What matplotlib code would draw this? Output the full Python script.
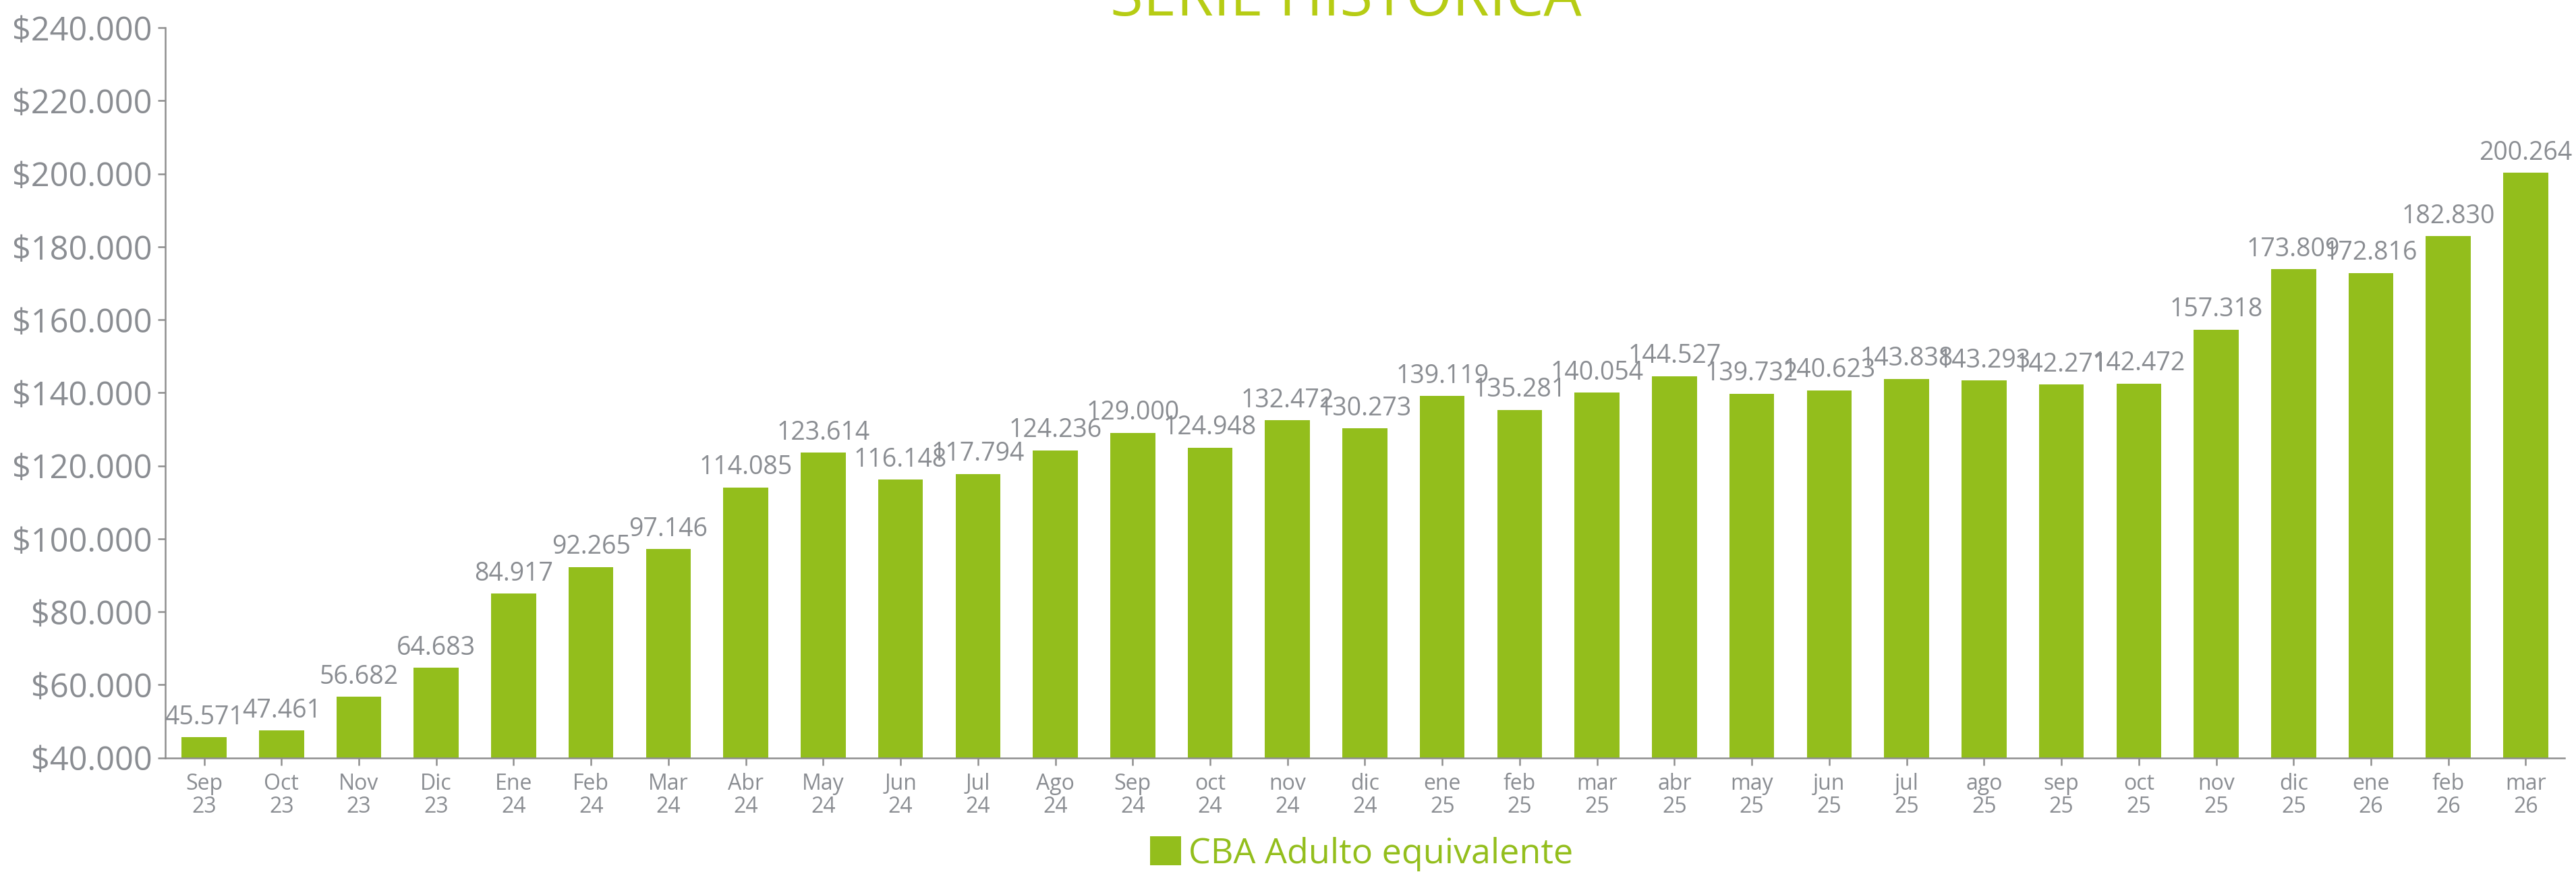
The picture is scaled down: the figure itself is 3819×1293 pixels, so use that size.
# -*- coding: utf-8 -*-
"""Serie histórica — CBA Adulto equivalente (bar chart)."""

import matplotlib
matplotlib.use("Agg")
import matplotlib.pyplot as plt
from matplotlib.ticker import FuncFormatter

# --- data ---
months = ["Sep", "Oct", "Nov", "Dic", "Ene", "Feb", "Mar", "Abr", "May", "Jun",
          "Jul", "Ago", "Sep", "oct", "nov", "dic", "ene", "feb", "mar", "abr",
          "may", "jun", "jul", "ago", "sep", "oct", "nov", "dic", "ene", "feb", "mar"]
years = ["23", "23", "23", "23", "24", "24", "24", "24", "24", "24",
         "24", "24", "24", "24", "24", "24", "25", "25", "25", "25",
         "25", "25", "25", "25", "25", "25", "25", "25", "26", "26", "26"]
cba_values = [45571, 47461, 56682, 64683, 84917, 92265, 97146, 114085, 123614, 116148,
              117794, 124236, 129000, 124948, 132472, 130273, 139119, 135281, 140054, 144527,
              139732, 140623, 143838, 143293, 142271, 142472, 157318, 173809, 172816, 182830,
              200264]
y_ticks = [40000, 60000, 80000, 100000, 120000, 140000, 160000, 180000, 200000, 220000, 240000]

BAR = "#93be1c"
TITLE = "#b6cc14"
GRAY = "#8a8d92"
AXIS = "#8e8e8e"

plt.rcParams["font.family"] = ["Open Sans", "DejaVu Sans"]


def miles(v):
    # 45571 -> "45.571"
    return f"{int(round(v)):,}".replace(",", ".")


fig = plt.figure(figsize=(38.19, 12.93), dpi=100)
ax = fig.add_axes([0.0642, 0.1310, 0.9313, 0.8373])

x = list(range(len(cba_values)))
bars = ax.bar(x, cba_values, width=0.58, color=BAR, label="CBA Adulto equivalente", zorder=2)

for xi, v in zip(x, cba_values):
    ax.annotate(miles(v), (xi, v), xytext=(0, 14), textcoords="offset points",
                ha="center", va="baseline", fontsize=27, color=GRAY)

ax.set_xlim(-0.5, len(cba_values) - 0.5)
ax.set_ylim(40000, 240000)
ax.set_yticks(y_ticks)
ax.yaxis.set_major_formatter(FuncFormatter(lambda v, p: "$" + miles(v)))
ax.set_xticks(x)
ax.set_xticklabels([f"{m}\n{y}" for m, y in zip(months, years)], linespacing=1.05)

for s in ["top", "right"]:
    ax.spines[s].set_visible(False)
for s in ["left", "bottom"]:
    ax.spines[s].set_color(AXIS)
    ax.spines[s].set_linewidth(1.8)

ax.tick_params(axis="y", labelsize=35, colors=AXIS, labelcolor=GRAY, length=8, width=1.8, pad=6)
ax.tick_params(axis="x", labelsize=23, colors=AXIS, labelcolor=GRAY, length=8, width=1.8, pad=8)

fig.text(0.5225, 1 - 23 / 1293, "SERIE HISTÓRICA", ha="center", va="baseline",
         fontsize=64, color=TITLE)

leg = fig.legend(handles=[bars], loc="center", bbox_to_anchor=(0.5285, 0.021),
                 frameon=False, fontsize=37.5, handlelength=0.9, handleheight=0.9,
                 handletextpad=0.2)
for t in leg.get_texts():
    t.set_color(BAR)

fig.savefig("out.png", dpi=100)
plt.close(fig)
